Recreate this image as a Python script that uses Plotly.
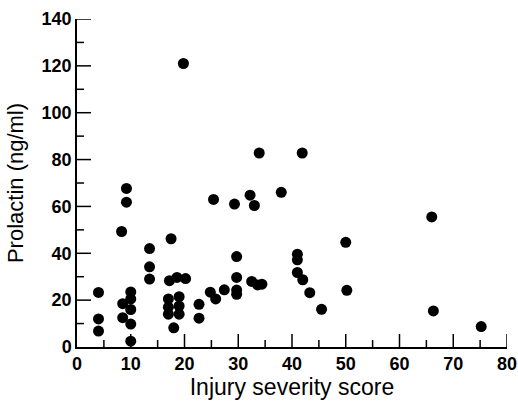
import plotly.graph_objects as go

# Injury severity score (x) and prolactin (ng/ml) (y)
iss = [4, 4, 4,
       9.2, 9.2, 8.3,
       8.5, 8.5,
       10, 10, 10, 10, 10,
       13.5, 13.5, 13.5,
       17.5,
       17.2, 18.6, 20.2,
       17, 17, 17, 19, 19, 19,
       18,
       22.7, 22.7,
       24.8, 25.8, 27.4,
       29.7, 29.7, 29.7, 29.7,
       32.5, 33.6, 34.4,
       25.4, 29.3, 32.2, 33, 38,
       33.9, 41.9,
       19.8,
       41, 41, 41, 42, 43.3, 45.5,
       50, 50.2,
       66, 66.3, 75.2]
prolactin = [23.3, 12, 6.8,
             67.7, 61.8, 49.3,
             18.5, 12.5,
             23.5, 20.5, 16, 9.8, 2.5,
             42, 34.2, 29,
             46.2,
             28.3, 29.7, 29.2,
             20.5, 17, 14, 21.5, 17.5, 14,
             8.2,
             18.2, 12.3,
             23.4, 20.5, 24.4,
             38.6, 29.7, 24.3, 22.5,
             28, 26.5, 26.8,
             63, 61, 64.8, 60.4, 66,
             82.8, 82.8,
             121,
             39.6, 37.2, 31.8, 28.7, 23.2, 16.1,
             44.7, 24.2,
             55.5, 15.4, 8.7]

x_range = [0, 80]
y_range = [0, 140]
x_major_ticks = [0, 10, 20, 30, 40, 50, 60, 70, 80]
x_minor_ticks = [5, 15, 25, 35, 45, 55, 65, 75]
y_major_ticks = [0, 20, 40, 60, 80, 100, 120, 140]
y_minor_ticks = [10, 30, 50, 70, 90, 110, 130]

fig = go.Figure(go.Scatter(
    x=iss, y=prolactin, mode="markers",
    marker=dict(color="black", size=11, line=dict(width=0)),
    cliponaxis=False, showlegend=False,
))

tick_font = dict(family="Liberation Sans, Arial, sans-serif", size=18, color="black", weight="bold")
title_font = dict(family="Liberation Sans, Arial, sans-serif", size=22, color="black")
xtitle_font = dict(family="Liberation Sans, Arial, sans-serif", size=23, color="black")

# inward tick marks drawn at the tick values (length in pixels)
tick_line = dict(color="black", width=1.5)
shapes = []
for v, ln in [(t, 13) for t in x_major_ticks[1:]] + [(t, 7) for t in x_minor_ticks]:
    shapes.append(dict(type="line", xref="x", yref="y", x0=v, x1=v,
                       ysizemode="pixel", yanchor=y_range[0], y0=0, y1=ln, line=tick_line))
for v, ln in [(t, 14) for t in y_major_ticks[1:]] + [(t, 7) for t in y_minor_ticks]:
    shapes.append(dict(type="line", xref="x", yref="y", y0=v, y1=v,
                       xsizemode="pixel", xanchor=x_range[0], x0=0, x1=ln, line=tick_line))

fig.update_layout(
    width=518, height=403,
    margin=dict(l=77, r=11, t=19, b=56),
    paper_bgcolor="white", plot_bgcolor="white",
    font=title_font,
    shapes=shapes,
)
fig.update_xaxes(
    range=x_range, tickvals=x_major_ticks, ticktext=[str(v) for v in x_major_ticks],
    showline=True, linecolor="black", linewidth=1.5, ticks="",
    showgrid=False, zeroline=False, tickfont=tick_font,
    title=dict(text="Injury severity score", font=xtitle_font, standoff=4),
    automargin=False,
)
fig.update_yaxes(
    range=y_range, tickvals=y_major_ticks, ticktext=[str(v) for v in y_major_ticks],
    showline=True, linecolor="black", linewidth=1.5, ticks="",
    showgrid=False, zeroline=False, tickfont=tick_font,
    title=dict(text="Prolactin (ng/ml)", font=title_font, standoff=12),
    automargin=False,
)

fig.write_html(
    "out.html",
    config={"displayModeBar": False},
    post_script="document.body.style.margin='0';document.body.style.overflow='hidden';",
)
